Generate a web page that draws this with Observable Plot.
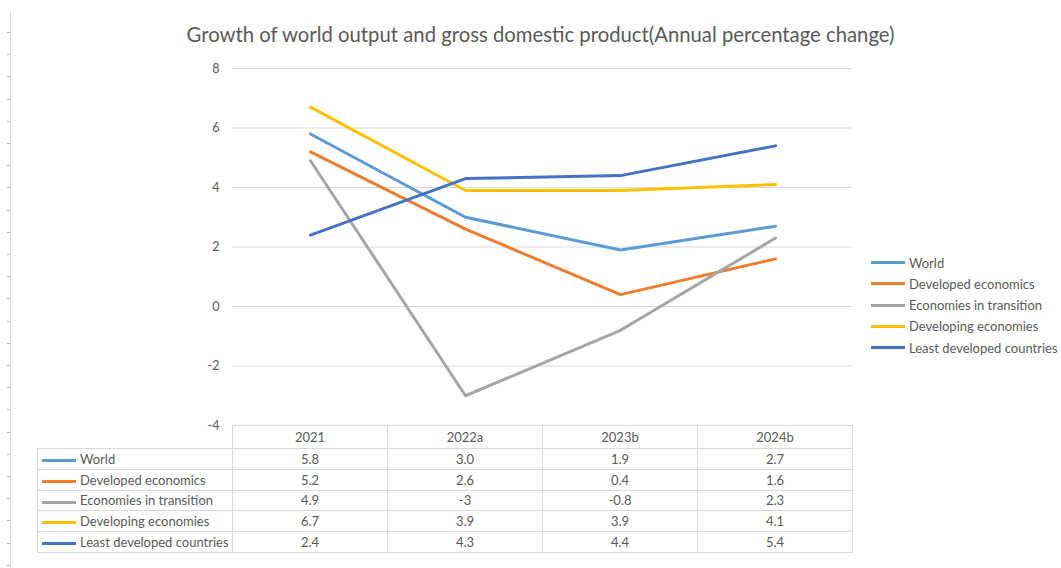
<!DOCTYPE html>
<html><head><meta charset="utf-8">
<script src="https://cdn.jsdelivr.net/npm/d3@7"></script>
<script src="https://cdn.jsdelivr.net/npm/@observablehq/plot@0.6"></script>
<style>
body{margin:0;background:#fff;font-family:Lato,"Open Sans",sans-serif;}
#wrap{position:relative;width:1061px;height:568px;overflow:hidden;background:#fff;}
#ruler{position:absolute;left:0;top:11px;width:11px;height:557px;border-right:1px solid #dcdce4;box-sizing:border-box;
 background:repeating-linear-gradient(to bottom,transparent 0 21px,#b8b8c4 21px 22px,transparent 22px 22.2px);
 background-size:3px 100%;background-repeat:repeat-y;background-position:7px 0;}
#title{position:absolute;top:22px;left:0;width:1081px;text-align:center;font-size:20.3px;color:#595959;white-space:nowrap;}
#chart{position:absolute;top:0;left:0;}
#legend{position:absolute;left:871px;top:252px;font-size:13px;color:#595959;}
.li{height:21.25px;display:flex;align-items:center;white-space:nowrap;}
.sw{display:inline-block;width:34px;height:3px;margin-right:4px;}
#tbl{position:absolute;left:37px;top:425px;border-collapse:collapse;table-layout:fixed;font-size:13px;color:#595959;}
#tbl td{border:1px solid #d9d9d9;padding:0;text-align:center;white-space:nowrap;}
#tbl td.lab{text-align:left;padding-left:4px;}
#tbl td.blank{border:none;}
#tbl tr.hd{height:23px;}
#tbl tr.rw{height:20.8px;}
</style></head>
<body>
<div id="wrap">
  <div id="ruler"></div>
  <div id="chart"></div>
  <div id="title"></div>
  <div id="legend"></div>
  <table id="tbl"></table>
</div>
<script>
const titleText = "Growth of world output and gross domestic product(Annual percentage change)";
const categories = ["2021", "2022a", "2023b", "2024b"];
const seriesNames = ["World", "Developed economics", "Economies in transition", "Developing economies", "Least developed countries"];
const seriesColors = ["#5B9BD5", "#ED7D31", "#A5A5A5", "#FFC000", "#4472C4"];
// values as shown in the data table
const world = ["5.8", "3.0", "1.9", "2.7"];
const developed = ["5.2", "2.6", "0.4", "1.6"];
const transition = ["4.9", "-3", "-0.8", "2.3"];
const developing = ["6.7", "3.9", "3.9", "4.1"];
const leastDeveloped = ["2.4", "4.3", "4.4", "5.4"];
const yTicks = [-4, -2, 0, 2, 4, 6, 8];

const seriesValues = [world, developed, transition, developing, leastDeveloped];
const data = [];
seriesNames.forEach((s, i) => categories.forEach((c, j) => data.push({series: s, year: c, value: +seriesValues[i][j]})));

document.getElementById("title").textContent = titleText;

const chart = Plot.plot({
  width: 1061, height: 430,
  marginTop: 68, marginBottom: 5, marginLeft: 232, marginRight: 209,
  x: {type: "point", domain: categories, padding: 0.5, axis: null},
  y: {domain: [-4, 8], axis: null},
  color: {domain: seriesNames, range: seriesColors},
  style: {fontFamily: "Lato, sans-serif", fontSize: "12px", color: "#595959", background: "transparent", overflow: "visible"},
  marks: [
    Plot.gridY(yTicks, {stroke: "#d9d9d9", strokeOpacity: 1}),
    Plot.axisY(yTicks, {tickSize: 0, tickPadding: 13, label: null, fill: "#595959", fontSize: 12.5, tickFormat: d => String(d)}),
    Plot.line(data, {x: "year", y: "value", z: "series", stroke: "series", strokeWidth: 3, strokeLinejoin: "round", strokeLinecap: "round"})
  ]
});
document.getElementById("chart").appendChild(chart);

// right legend
const leg = document.getElementById("legend");
seriesNames.forEach((s, i) => {
  const d = document.createElement("div"); d.className = "li";
  d.innerHTML = `<span class="sw" style="background:${seriesColors[i]}"></span><span>${s}</span>`;
  leg.appendChild(d);
});

// data table
const tbl = document.getElementById("tbl");
const cg = document.createElement("colgroup");
cg.innerHTML = `<col style="width:195px">` + categories.map(() => `<col style="width:155px">`).join("");
tbl.appendChild(cg);
const hd = document.createElement("tr"); hd.className = "hd";
hd.innerHTML = `<td class="blank"></td>` + categories.map(c => `<td>${c}</td>`).join("");
tbl.appendChild(hd);
seriesNames.forEach((s, i) => {
  const tr = document.createElement("tr"); tr.className = "rw";
  tr.innerHTML = `<td class="lab"><span class="sw" style="background:${seriesColors[i]};vertical-align:middle"></span>${s}</td>` +
    seriesValues[i].map(v => `<td>${v}</td>`).join("");
  tbl.appendChild(tr);
});
</script>
</body></html>
